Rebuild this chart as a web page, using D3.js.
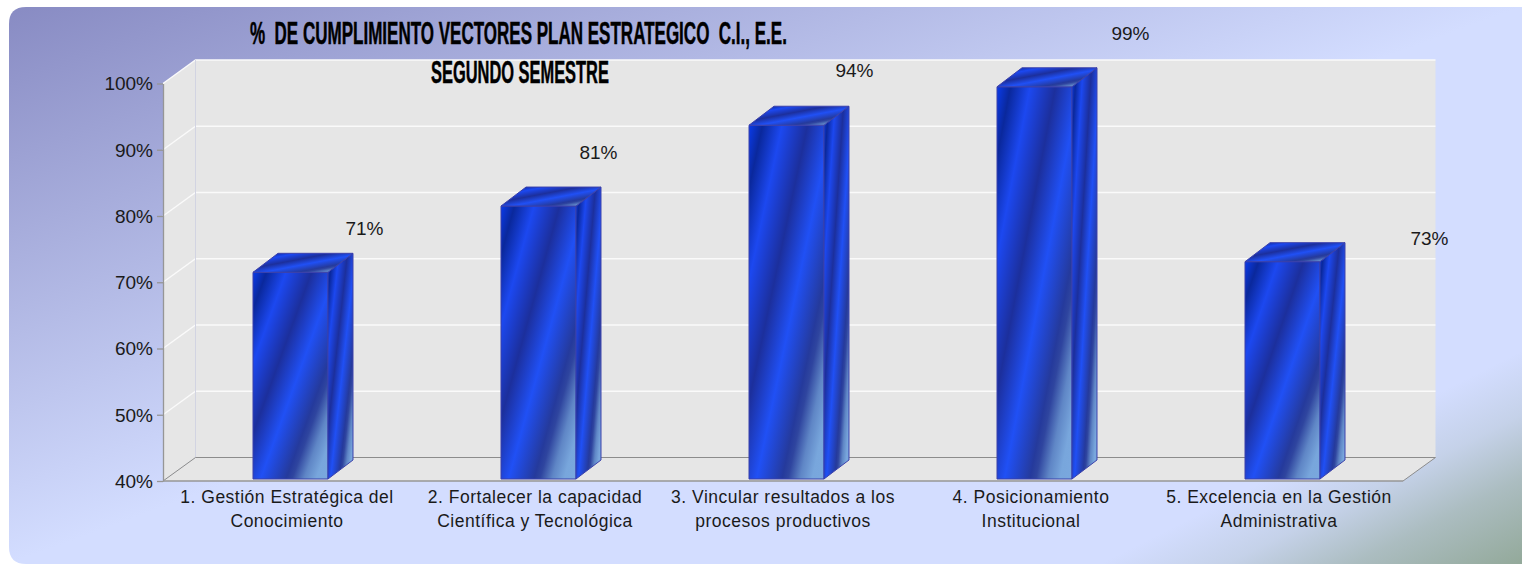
<!DOCTYPE html>
<html>
<head>
<meta charset="utf-8">
<title>% de cumplimiento</title>
<script src="https://cdn.jsdelivr.net/npm/d3@7"></script>
<style>
  html, body { margin: 0; padding: 0; background: #fff; overflow: hidden; }
  svg { display: block; }
  text { font-family: "Liberation Sans", Arial, sans-serif; fill: #1a1a1a; }
</style>
</head>
<body>
<div id="chart"></div>
<script>
const categories = [
  "1. Gestión Estratégica del\nConocimiento",
  "2. Fortalecer la capacidad\nCientífica y Tecnológica",
  "3. Vincular resultados a los\nprocesos productivos",
  "4. Posicionamiento\nInstitucional",
  "5. Excelencia en la Gestión\nAdministrativa"
];
const values = [71.2, 81.2, 93.4, 99.2, 72.8];
const valueLabels = ["71%", "81%", "94%", "99%", "73%"];
const yTicks = [40, 50, 60, 70, 80, 90, 100];
const titleLines = ["%  DE CUMPLIMIENTO VECTORES PLAN ESTRATEGICO  C.I., E.E.", "SEGUNDO SEMESTRE"];

// the labels were dragged by hand in the original, so they sit away from the bars
const labelShiftX = [74, 60, 68, 96, 147];
const labelShiftY = [-37, -47, -48, -47, -17];

const width = 1522, height = 564;
const margin = { top: 83.5, right: 119, bottom: 83, left: 163 };
const wallDx = 32.5, wallDy = -23.5; // depth of the 3d box
const barDx = 25, barDy = -19;       // depth of a bar
const barShiftX = 3.5, barShiftY = -2;

const svg = d3.select("#chart").append("svg")
  .attr("width", width)
  .attr("height", height);

const defs = svg.append("defs");

const panelGrad = defs.append("linearGradient").attr("id", "panelGrad")
  .attr("x1", 0).attr("y1", 0).attr("x2", 1).attr("y2", 1);
panelGrad.append("stop").attr("offset", 0).attr("stop-color", "#888bc3");
panelGrad.append("stop").attr("offset", 0.5).attr("stop-color", "#d3ddff");
panelGrad.append("stop").attr("offset", 1).attr("stop-color", "#d3ddff");

const cornerGrad = defs.append("linearGradient").attr("id", "cornerGrad")
  .attr("gradientUnits", "userSpaceOnUse")
  .attr("x1", 1436).attr("y1", 394).attr("x2", 1522).attr("y2", 564);
[[0, 0], [0.3, 0.22], [0.6, 0.62], [1, 1]].forEach(s => {
  cornerGrad.append("stop").attr("offset", s[0]).attr("stop-color", "#93a99a").attr("stop-opacity", s[1]);
});

// same stripes on all three faces, stretched to each face's box
const barStops = [
  [0, "#0a3bea"], [0.09, "#0a289c"], [0.22, "#1c48f0"], [0.39, "#1c2f9c"],
  [0.55, "#2050f5"], [0.72, "#253a9c"], [0.76, "#2f459f"], [0.84, "#5f86c6"], [0.92, "#78a6dc"], [1, "#7aa8de"]
];
const barGrad = defs.append("linearGradient").attr("id", "barGrad")
  .attr("x1", 0).attr("y1", 0).attr("x2", 1).attr("y2", 1);
barGrad.selectAll("stop").data(barStops).join("stop")
  .attr("offset", d => d[0])
  .attr("stop-color", d => d[1]);

const panelPath = d3.path();
panelPath.moveTo(26, 7);
panelPath.lineTo(width, 7);
panelPath.lineTo(width, height);
panelPath.lineTo(26, height);
panelPath.quadraticCurveTo(9, height, 9, height - 17);
panelPath.lineTo(9, 24);
panelPath.quadraticCurveTo(9, 7, 26, 7);
panelPath.closePath();
svg.append("path").attr("d", panelPath.toString()).attr("fill", "url(#panelGrad)");
svg.append("path").attr("d", panelPath.toString()).attr("fill", "url(#cornerGrad)");

const x = d3.scaleBand()
  .domain(categories)
  .range([margin.left, width - margin.right + 0 - 0])
  .paddingInner(0.6976)
  .paddingOuter(0.3488);

const y = d3.scaleLinear()
  .domain([40, 100])
  .range([height - margin.bottom, margin.top]);

const x0 = x.range()[0], x1 = x.range()[1];
const yBottom = y(40), yTop = y(100);
const pts = arr => arr.map(p => p.join(",")).join(" ");

// walls and floor
svg.append("polygon")
  .attr("points", pts([[x0, yBottom], [x0, yTop], [x0 + wallDx, yTop + wallDy], [x0 + wallDx, yBottom + wallDy]]))
  .attr("fill", "#e6e6e6");
svg.append("polygon")
  .attr("points", pts([[x0 + wallDx, yBottom + wallDy], [x0 + wallDx, yTop + wallDy], [x1 + wallDx, yTop + wallDy], [x1 + wallDx, yBottom + wallDy]]))
  .attr("fill", "#e6e6e6");
svg.append("polygon")
  .attr("points", pts([[x0, yBottom], [x0 + wallDx, yBottom + wallDy], [x1 + wallDx, yBottom + wallDy], [x1, yBottom]]))
  .attr("fill", "#e6e6e6");

// gridlines go along the side wall and then the back wall
svg.append("g").selectAll("polyline").data(yTicks.slice(1)).join("polyline")
  .attr("points", d => pts([[x0, y(d)], [x0 + wallDx, y(d) + wallDy], [x1 + wallDx, y(d) + wallDy]]))
  .attr("fill", "none")
  .attr("stroke", "#fafafa")
  .attr("stroke-width", 1.4);

svg.append("line")
  .attr("x1", x0 + wallDx).attr("x2", x0 + wallDx)
  .attr("y1", yTop + wallDy).attr("y2", yBottom + wallDy)
  .attr("stroke", "#d2d4e2");

svg.append("polyline")
  .attr("points", pts([[x0, yBottom], [x0 + wallDx, yBottom + wallDy], [x1 + wallDx, yBottom + wallDy], [x1, yBottom]]))
  .attr("fill", "none")
  .attr("stroke", "#8c8c8c")
  .attr("stroke-width", 1);

svg.append("line")
  .attr("x1", x0).attr("x2", x1)
  .attr("y1", yBottom).attr("y2", yBottom)
  .attr("stroke", "#969696")
  .attr("stroke-width", 1.5);

// y axis
const yAxis = svg.append("g")
  .attr("transform", "translate(" + x0 + ",0)")
  .call(d3.axisLeft(y)
    .tickValues(yTicks)
    .tickFormat(d => d + "%")
    .tickSize(6)
    .tickSizeOuter(0)
    .tickPadding(4));
yAxis.selectAll("path, line").attr("stroke", "#969696").attr("stroke-width", 1.3);
yAxis.selectAll("text").style("font-size", "19px").attr("dy", "0.33em");
yAxis.attr("font-family", null);

// category labels
const xAxis = svg.append("g")
  .attr("transform", "translate(0," + yBottom + ")")
  .call(d3.axisBottom(x).tickSize(0).tickPadding(0));
xAxis.select(".domain").remove();
xAxis.attr("font-family", null);
xAxis.selectAll("text").each(function (d) {
  const t = d3.select(this).text("")
    .style("font-size", "17.5px")
    .style("letter-spacing", "0.5px")
    .attr("y", 0).attr("dy", null);
  d.split("\n").forEach((line, i) => {
    t.append("tspan").attr("x", 0).attr("y", 22 + i * 24).text(line);
  });
});

// bars
const bars = svg.append("g").selectAll("g").data(categories).join("g");
const barEdge = "#3b40ab";
const left = c => x(c) + barShiftX;
const right = c => left(c) + x.bandwidth();
const base = yBottom + barShiftY;
const top_ = (c, i) => y(values[i]) + barShiftY;

bars.append("polygon")
  .attr("points", (c, i) => pts([[left(c), base], [left(c), top_(c, i)], [right(c), top_(c, i)], [right(c), base]]))
  .attr("fill", "url(#barGrad)").attr("stroke", barEdge);
bars.append("polygon")
  .attr("points", (c, i) => pts([[right(c), base], [right(c), top_(c, i)], [right(c) + barDx, top_(c, i) + barDy], [right(c) + barDx, base + barDy]]))
  .attr("fill", "url(#barGrad)").attr("stroke", barEdge);
bars.append("polygon")
  .attr("points", (c, i) => pts([[left(c), top_(c, i)], [left(c) + barDx, top_(c, i) + barDy], [right(c) + barDx, top_(c, i) + barDy], [right(c), top_(c, i)]]))
  .attr("fill", "url(#barGrad)").attr("stroke", barEdge);

// value labels
svg.append("g").selectAll("text").data(categories).join("text")
  .attr("x", (c, i) => left(c) + x.bandwidth() / 2 + labelShiftX[i])
  .attr("y", (c, i) => top_(c, i) + labelShiftY[i])
  .attr("text-anchor", "middle")
  .style("font-size", "19px")
  .text((c, i) => valueLabels[i]);

// title, squeezed to the width it has in the original
const titleX = [250, 431], titleY = [43.5, 82.5], titleW = [537, 178];
svg.append("g").selectAll("text").data(titleLines).join("text")
  .style("white-space", "pre")
  .style("font-family", '"Liberation Sans Narrow", "Liberation Sans", sans-serif')
  .style("font-weight", "bold")
  .style("font-size", "31px")
  .style("fill", "#000")
  .style("stroke", "#000")
  .style("stroke-width", "0.5px")
  .text(d => d)
  .attr("transform", function (d, i) {
    const sx = titleW[i] / this.getComputedTextLength();
    return "translate(" + titleX[i] + "," + titleY[i] + ") scale(" + sx + ",1)";
  });
</script>
</body>
</html>
